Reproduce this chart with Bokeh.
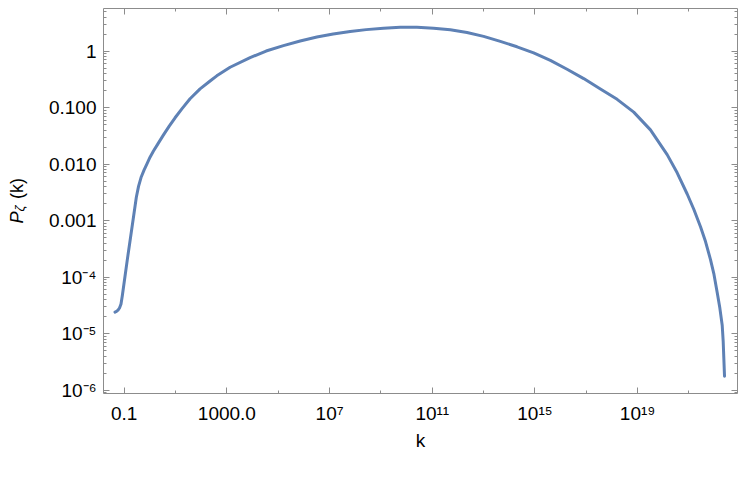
import math
from bokeh.plotting import figure
from bokeh.layouts import row
from bokeh.core.properties import value
from bokeh.models import Range1d, FixedTicker, LogAxis, CustomJSTickFormatter
from bokeh.embed import file_html
from bokeh.resources import INLINE

# curve values, as log10 of k and of P_zeta(k)
log10_k = [-1.359, -1.300, -1.242, -1.183, -1.125, -1.074, -0.977, -0.879, -0.805, -0.657,
           -0.528, -0.442, -0.345, -0.228, -0.123, 0.006, 0.134, 0.318, 0.524, 0.747,
           0.981, 1.253, 1.565, 1.955, 2.345, 2.606, 3.125, 3.904, 4.528, 5.203,
           5.854, 6.505, 7.140, 7.803, 8.427, 9.101, 9.752, 10.404, 11.051, 11.702,
           12.353, 13.000, 13.651, 14.302, 14.949, 15.600, 16.251, 16.899, 17.550, 18.201,
           18.848, 19.499, 20.150, 20.540, 20.930, 21.187, 21.449, 21.644, 21.838, 21.967,
           22.099, 22.201, 22.294, 22.333, 22.357, 22.384]
log10_P = [-4.618, -4.606, -4.584, -4.545, -4.475, -4.327, -4.008, -3.688, -3.456, -2.991,
           -2.585, -2.392, -2.236, -2.105, -2.001, -1.875, -1.771, -1.635, -1.485, -1.330,
           -1.178, -1.016, -0.842, -0.6675, -0.528, -0.436, -0.284, -0.115, 0.0035, 0.0993,
           0.181, 0.251, 0.303, 0.3486, 0.382, 0.408, 0.425, 0.422, 0.408, 0.378,
           0.331, 0.263, 0.174, 0.078, -0.028, -0.162, -0.319, -0.4845, -0.6675, -0.852,
           -1.078, -1.392, -1.830, -2.152, -2.527, -2.797, -3.107, -3.369, -3.688, -3.935,
           -4.270, -4.542, -4.850, -5.141, -5.430, -5.751]
k_vals = [10.0 ** v for v in log10_k]
p_vals = [10.0 ** v for v in log10_P]

x_major = [1e-1, 1e3, 1e7, 1e11, 1e15, 1e19]
x_minor = [1e1, 1e5, 1e9, 1e13, 1e17, 1e21]
x_labels = ["0.1", "1000.0", "10\u2077", "10\u00b9\u00b9", "10\u00b9\u2075", "10\u00b9\u2079"]
y_major = [1e-6, 1e-5, 1e-4, 1e-3, 1e-2, 1e-1, 1.0]
y_labels = ["10\u207b\u2076", "10\u207b\u2075", "10\u207b\u2074", "0.001", "0.010", "0.100", "1"]
y_minor = [m * 10.0 ** e for e in range(-7, 1) for m in range(2, 10)]

x_lo, x_hi = 0.0156, 7.76e22
y_lo, y_hi = 8.75e-7, 5.70

FONT = "Liberation Sans"
AX = "#8c8c8c"
LINE = "#5E81B5"
H = 453
LW = 30  # width of the strip that holds the y-axis title

p = figure(width=747 - LW, height=H, x_axis_type="log", y_axis_type="log",
           x_range=Range1d(x_lo, x_hi), y_range=Range1d(y_lo, y_hi),
           output_backend="svg", toolbar_location=None,
           min_border_left=103 - LW, min_border_right=10, min_border_top=8, min_border_bottom=10)
p.outline_line_color = None
p.xgrid.visible = False
p.ygrid.visible = False
p.background_fill_color = "white"
p.border_fill_color = "white"

p.line(k_vals, p_vals, line_color=LINE, line_width=3, line_join="round", line_cap="round")

xt = FixedTicker(ticks=x_major, minor_ticks=x_minor)
yt = FixedTicker(ticks=y_major, minor_ticks=y_minor)

def style(ax):
    ax.axis_line_color = AX
    ax.major_tick_line_color = AX
    ax.minor_tick_line_color = AX
    ax.major_tick_in = 6
    ax.major_tick_out = 0
    ax.minor_tick_in = 3
    ax.minor_tick_out = 0
    ax.major_label_text_font = FONT
    ax.major_label_text_font_size = "19px"
    ax.major_label_text_color = "black"
    ax.axis_label_text_font = FONT
    ax.axis_label_text_font_style = "normal"
    ax.axis_label_text_font_size = "19px"
    ax.axis_label_text_color = "black"

xa = p.xaxis[0]
xa.ticker = xt
xa.major_label_overrides = {v: s for v, s in zip(x_major, x_labels)}
style(xa)
xa.axis_label = "k"
xa.axis_label_standoff = 3
xa.major_label_standoff = 9

ya = p.yaxis[0]
ya.ticker = yt
ya.major_label_overrides = {v: s for v, s in zip(y_major, y_labels)}
style(ya)
ya.major_label_standoff = 7

blank = CustomJSTickFormatter(code="return ''")
top = LogAxis(ticker=FixedTicker(ticks=x_major, minor_ticks=x_minor), formatter=blank)
style(top)
top.major_label_standoff = 0
p.add_layout(top, "above")
right = LogAxis(ticker=FixedTicker(ticks=y_major, minor_ticks=y_minor), formatter=blank)
style(right)
right.major_label_standoff = 0
p.add_layout(right, "right")

# narrow strip on the left holding the y-axis title  P_zeta (k)
t = figure(width=LW, height=H, x_range=Range1d(0, LW), y_range=Range1d(0, H),
           output_backend="svg", toolbar_location=None,
           x_axis_location=None, y_axis_location=None, min_border=0)
t.outline_line_color = None
t.grid.visible = False
t.background_fill_color = "white"
t.border_fill_color = "white"
ang = math.pi / 2
t.text(x=[16.5], y=[H - 253], text=["P"], angle=ang, text_font=value(FONT),
       text_font_style="italic", text_font_size="18px", text_color="black",
       text_baseline="alphabetic", text_align="left")
t.text(x=[19], y=[H - 239], text=["\u03b6"], angle=ang, text_font=value(FONT),
       text_font_style="italic", text_font_size="13px", text_color="black",
       text_baseline="alphabetic", text_align="left")
t.text(x=[16.5], y=[H - 224], text=["(k)"], angle=ang, text_font=value(FONT),
       text_font_size="18px", text_color="black",
       text_baseline="alphabetic", text_align="left")

layout = row(t, p, spacing=0)
open("out.html", "w").write(file_html(layout, INLINE))
